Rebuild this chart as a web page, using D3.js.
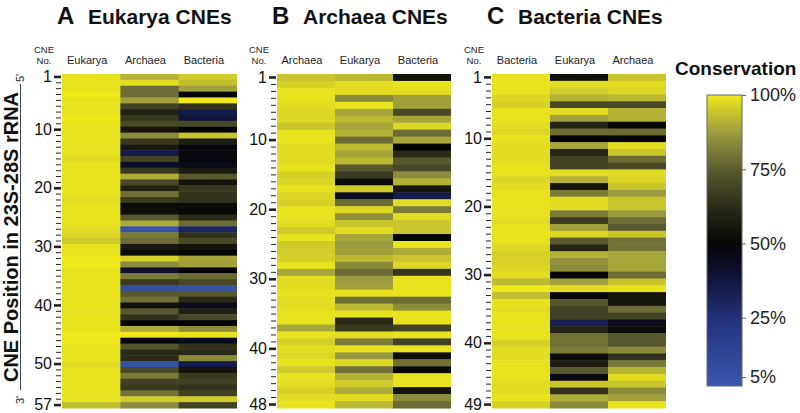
<!DOCTYPE html>
<html><head><meta charset="utf-8">
<script src="https://cdn.jsdelivr.net/npm/d3@7"></script>
<style>body{margin:0;background:#fff}</style>
</head><body>
<script>
// ---------------- DATA ----------------
const panelLetters = ["A", "B", "C"];
const panelTitles = ["Eukarya CNEs", "Archaea CNEs", "Bacteria CNEs"];
const panelColumns = [
  ["Eukarya", "Archaea", "Bacteria"],
  ["Archaea", "Eukarya", "Bacteria"],
  ["Bacteria", "Eukarya", "Archaea"]
];
const panelTickLabels = [
  [1, 10, 20, 30, 40, 50, 57],
  [1, 10, 20, 30, 40, 48],
  [1, 10, 20, 30, 40, 49]
];

// Panel A: Eukarya CNEs (57)
const eukCNE_Eukarya = [99,99,99,100,99,99,99,100,99,99, 99,99,99,99,98,99,99,99,99,99, 99,98,99,99,99,99,98,97,95,99, 99,100,100,99,99,99,99,99,99,99, 99,99,99,99,100,100,99,99,99,98, 99,99,99,99,99,99,93];
const eukCNE_Archaea = [91,98,78,78,88,68,59,66,70,55, 84,66,56,35,69,42,66,90,70,59, 79,66,52,53,74,90,5,81,78,56, 52,96,84,41,81,66,8,74,79,53, 74,64,50,90,100,49,73,62,62,5, 70,81,68,66,79,95,84];
const eukCNE_Bacteria = [95,93,88,50,100,64,35,38,70,50, 94,58,48,48,48,45,57,74,55,66, 64,64,52,51,62,78,30,64,70,55, 50,89,88,50,78,70,4,74,62,45, 59,70,50,84,99,44,64,62,84,35, 55,66,68,64,68,95,68];

// Panel B: Archaea CNEs (48)
const arcCNE_Archaea = [94,96,99,99,98,97,97,94,99,99, 98,98,98,99,96,97,99,97,96,99, 99,98,95,99,95,95,96,99,89,98, 98,99,98,98,99,99,89,99,96,98, 97,99,95,99,98,96,98,99];
const arcCNE_Eukarya = [92,98,98,84,99,89,92,89,91,78, 92,89,92,74,66,52,95,45,78,97, 85,94,98,89,87,88,92,84,78,87, 88,99,79,92,99,62,66,98,81,99, 87,97,79,91,95,90,98,92];
const arcCNE_Bacteria = [55,99,98,88,88,70,89,97,78,89, 50,62,74,70,84,91,55,35,98,81, 98,94,94,50,99,90,94,97,65,99, 99,99,78,84,99,99,68,99,68,99, 53,79,51,99,99,55,84,78];

// Panel C: Bacteria CNEs (49)
const bacCNE_Bacteria = [99,99,99,97,96,99,99,98,97,99, 98,98,98,99,99,97,98,99,99,99, 99,98,99,99,99,97,96,96,97,98, 92,100,93,99,98,99,99,99,99,96, 98,98,99,99,99,98,98,99,96];
const bacCNE_Eukarya = [53,98,95,91,70,98,88,60,78,50, 89,60,68,68,98,91,55,81,98,98, 81,66,88,97,74,60,91,85,84,50, 88,98,49,74,68,68,33,60,79,79, 81,52,58,74,47,94,64,90,84];
const bacCNE_Archaea = [94,98,97,92,70,91,91,51,78,50, 98,94,78,70,98,97,94,87,94,94, 87,78,74,94,79,79,89,89,89,78, 94,99,55,55,78,68,45,52,74,74, 84,64,81,91,98,94,84,88,99];

const panelValues = [
  [eukCNE_Eukarya, eukCNE_Archaea, eukCNE_Bacteria],
  [arcCNE_Archaea, arcCNE_Eukarya, arcCNE_Bacteria],
  [bacCNE_Bacteria, bacCNE_Eukarya, bacCNE_Archaea]
];

// colour map (conservation %)
const colorStops = [2, 5, 25, 40, 50, 62, 75, 87, 100];
const colorHex = ["#3a58aa", "#3652a6", "#22307a", "#0e1030", "#050505", "#2a2a18", "#5c5c30", "#9a9a40", "#efe91c"];
const legendTicks = [5, 25, 50, 75, 100];

// ---------------- LAYOUT ----------------
const W = 800, H = 413;
const FONT = "'Liberation Sans', Arial, Helvetica, sans-serif";
const panelX = [[62, 237], [277, 451], [492, 666]];
const yTop = 74, yBottom = 408;

const color = d3.scaleLinear().domain(colorStops).range(colorHex).clamp(true);

const svg = d3.select("body").append("svg")
  .attr("width", W).attr("height", H)
  .style("font-family", FONT);

panelX.forEach((px, i) => {
  const g = svg.append("g");
  const cols = panelColumns[i];
  const vals = panelValues[i];
  const n = vals[0].length;
  const labels = panelTickLabels[i];
  const x = d3.scaleBand().domain(cols).range(px);
  const y = d3.scaleBand().domain(d3.range(1, n + 1)).range([yTop, yBottom]);

  cols.forEach((c, ci) => {
    g.append("g").selectAll("rect").data(vals[ci]).enter().append("rect")
      .attr("x", x(c))
      .attr("y", (d, k) => y(k + 1))
      .attr("width", x.bandwidth() + (ci < cols.length - 1 ? 0.5 : 0))
      .attr("height", y.bandwidth() + 0.5)
      .attr("fill", d => color(d));
  });

  // column headers
  g.selectAll("text.col").data(cols).enter().append("text")
    .attr("class", "col")
    .attr("x", d => x(d) + x.bandwidth() / 2 - 4)
    .attr("y", 64)
    .attr("text-anchor", "middle")
    .attr("font-size", 11)
    .attr("fill", "#222")
    .text(d => d);

  // CNE No.
  g.append("text").attr("x", px[0] - 18).attr("y", 53).attr("text-anchor", "middle")
    .attr("font-size", 9.5).attr("fill", "#222").text("CNE");
  g.append("text").attr("x", px[0] - 18).attr("y", 64).attr("text-anchor", "middle")
    .attr("font-size", 9.5).attr("fill", "#222").text("No.");

  // Title
  g.append("text").attr("x", px[0] - 5).attr("y", 24)
    .attr("font-size", 24).attr("font-weight", "bold").attr("fill", "#111")
    .text(panelLetters[i]);
  g.append("text").attr("x", px[0] + 26).attr("y", 24)
    .attr("font-size", 21).attr("font-weight", "bold").attr("fill", "#111")
    .text(panelTitles[i]);

  // Y axis
  const ax = d3.axisLeft(y)
    .tickValues(d3.range(1, n + 1))
    .tickFormat(d => labels.includes(d) ? d : "")
    .tickSizeInner(5).tickSizeOuter(0).tickPadding(3);
  const ag = g.append("g").attr("transform", `translate(${px[0] - 1},0)`).call(ax)
    .attr("font-family", FONT);
  ag.select(".domain").remove();
  ag.selectAll(".tick line")
    .attr("stroke", "#222")
    .attr("stroke-width", d => labels.includes(d) ? 2.6 : 1)
    .attr("x2", d => labels.includes(d) ? -7 : -5);
  ag.selectAll(".tick text")
    .attr("font-size", 16).attr("fill", "#111").attr("x", -9);
});

// left axis label
svg.append("text")
  .attr("transform", `translate(18,${(84 + 390) / 2}) rotate(-90)`)
  .attr("text-anchor", "middle")
  .attr("font-size", 20).attr("font-weight", "bold").attr("fill", "#111")
  .text("CNE Position in 23S-28S rRNA");
svg.append("line").attr("x1", 20.5).attr("x2", 20.5).attr("y1", 84).attr("y2", 390)
  .attr("stroke", "#444").attr("stroke-width", 1);
svg.append("text").attr("transform", "translate(24,78) rotate(-90)")
  .attr("text-anchor", "middle").attr("font-size", 11).attr("fill", "#222").text("5'");
svg.append("text").attr("transform", "translate(24,400) rotate(-90)")
  .attr("text-anchor", "middle").attr("font-size", 11).attr("fill", "#222").text("3'");

// Legend
const lx0 = 707, lx1 = 742, ly0 = 95, ly1 = 386;
const ls = d3.scaleLinear().domain([colorStops[0], 100]).range([ly1, ly0]);
const defs = svg.append("defs");
const grad = defs.append("linearGradient").attr("id", "cgrad")
  .attr("x1", 0).attr("x2", 0).attr("y1", 1).attr("y2", 0);
colorStops.forEach((s, k) => {
  grad.append("stop")
    .attr("offset", (s - colorStops[0]) / (100 - colorStops[0]))
    .attr("stop-color", colorHex[k]);
});
svg.append("rect").attr("x", lx0).attr("y", ly0).attr("width", lx1 - lx0).attr("height", ly1 - ly0)
  .attr("fill", "url(#cgrad)").attr("stroke", "#666").attr("stroke-width", 1);
const lax = d3.axisRight(ls).tickValues(legendTicks).tickFormat(d => d + "%")
  .tickSizeInner(4).tickSizeOuter(0).tickPadding(4);
const lg = svg.append("g").attr("transform", `translate(${lx1},0)`).call(lax).attr("font-family", FONT);
lg.select(".domain").remove();
lg.selectAll(".tick line").attr("stroke", "#666");
lg.selectAll(".tick text").attr("font-size", 18).attr("fill", "#222");
svg.append("text").attr("x", 675).attr("y", 75)
  .attr("font-size", 19).attr("font-weight", "bold").attr("fill", "#111").text("Conservation");
</script>
</body></html>
